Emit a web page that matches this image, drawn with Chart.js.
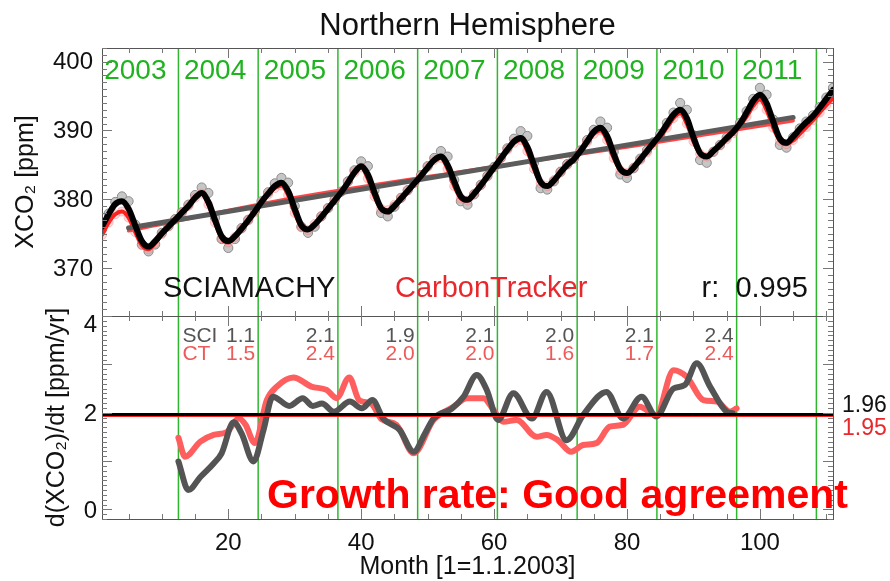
<!DOCTYPE html>
<html>
<head>
<meta charset="utf-8">
<script src="https://cdn.jsdelivr.net/npm/chart.js@4.4.0/dist/chart.umd.min.js"></script>
<style>
  html, body { margin: 0; padding: 0; background: #fff; }
  canvas { display: block; }
</style>
</head>
<body>
<canvas id="c" width="890" height="581"></canvas>
<script>
// Northern Hemisphere XCO2, month 1 = January 2003
// SCIAMACHY monthly means (circles)
const sciMonthly = [
  375.6, 377.9, 379.6, 380.4, 379.7, 376.3, 373.4, 372.4, 373.4, 375.1, 376.1, 377.1,
  378.1, 379.2, 380.6, 381.7, 380.9, 377.3, 374.2, 372.9, 374.2, 375.8, 377.0, 378.3,
  379.7, 381.0, 382.3, 383.1, 382.4, 379.0, 376.0, 375.1, 376.0, 377.5, 378.7, 379.9,
  381.1, 382.6, 384.2, 385.5, 384.8, 381.3, 378.0, 377.5, 378.9, 380.2, 381.3, 382.4,
  383.5, 384.8, 386.0, 387.0, 386.2, 382.8, 379.7, 379.2, 380.7, 382.1, 383.4, 384.7,
  386.0, 387.4, 388.8, 389.9, 389.2, 385.3, 381.6, 381.4, 382.6, 384.0, 385.1, 385.9,
  387.1, 388.6, 390.1, 391.3, 390.4, 386.9, 383.6, 383.1, 384.5, 385.9, 387.1, 388.3,
  389.5, 391.1, 392.6, 394.0, 393.0, 389.3, 385.7, 385.3, 386.9, 387.9, 389.0, 389.9,
  391.1, 392.8, 394.6, 396.2, 395.2, 391.6, 387.9, 387.5, 389.0, 390.3, 391.3, 392.2,
  393.4, 394.8, 396.2
];
// SCIAMACHY smoothed (black curve)
const sciSmooth = [
  376.0, 377.8, 379.3, 379.7, 378.6, 376.2, 373.9, 373.1, 373.9, 375.0, 376.0, 377.0,
  378.0, 379.0, 380.2, 380.9, 379.6, 377.0, 374.6, 373.9, 374.6, 375.7, 376.9, 378.2,
  379.6, 380.8, 381.9, 382.4, 381.2, 378.6, 376.2, 375.6, 376.3, 377.4, 378.6, 379.8,
  381.0, 382.4, 383.9, 384.8, 383.6, 381.0, 378.7, 378.2, 379.0, 380.1, 381.2, 382.3,
  383.4, 384.6, 385.7, 386.2, 385.0, 382.6, 380.4, 379.9, 380.8, 382.0, 383.3, 384.6,
  385.9, 387.2, 388.4, 388.9, 387.6, 385.0, 382.5, 381.9, 382.7, 383.9, 385.0, 385.8,
  387.0, 388.4, 389.8, 390.4, 389.2, 386.6, 384.4, 383.8, 384.6, 385.8, 387.0, 388.2,
  389.4, 390.9, 392.3, 393.0, 391.8, 389.0, 386.7, 386.2, 387.0, 387.9, 388.9, 389.8,
  391.0, 392.6, 394.3, 395.2, 394.0, 391.3, 388.8, 388.2, 389.1, 390.2, 391.2, 392.1,
  393.3, 394.6, 395.9
];
// CarbonTracker sampled like SCIAMACHY (red curve)
const ctMonthly = [
  374.8, 376.6, 377.8, 378.2, 377.3, 375.2, 373.3, 372.7, 373.6, 374.9, 376.0, 377.0,
  378.0, 379.0, 380.2, 380.8, 379.2, 376.6, 374.3, 373.7, 374.5, 375.7, 376.9, 378.1,
  379.5, 380.7, 381.6, 382.0, 380.6, 378.0, 375.9, 375.5, 376.4, 377.5, 378.7, 379.9,
  381.1, 382.5, 383.9, 384.6, 383.0, 380.4, 378.6, 378.4, 379.2, 380.2, 381.3, 382.4,
  383.5, 384.7, 385.7, 386.0, 384.4, 381.9, 380.1, 379.8, 380.8, 382.0, 383.3, 384.6,
  385.9, 387.2, 388.2, 388.6, 387.0, 384.4, 382.3, 381.9, 382.8, 383.9, 385.0, 385.9,
  387.0, 388.3, 389.5, 390.0, 388.6, 386.0, 384.2, 383.8, 384.6, 385.7, 386.8, 387.9,
  389.0, 390.4, 391.8, 392.5, 391.0, 388.4, 386.6, 386.2, 386.9, 387.8, 388.7, 389.6,
  390.7, 392.0, 393.6, 394.5, 393.0, 390.4, 388.5, 388.0, 388.6, 389.5, 390.5, 391.5,
  392.6, 393.7, 394.7
];
// long-term trends
const sciTrendMonths = [5, 105];
const sciTrend = [375.8, 391.9];
const ctTrendMonths = [5, 30, 55, 80, 105];
const ctTrend = [375.4, 380.2, 384.0, 387.6, 391.4];

// growth rate d(XCO2)/dt in ppm/yr
const sciRateMonths = [12.5, 14.0, 15.8, 17.8, 19.0, 20.8, 22.0, 23.8, 25.3, 26.7, 29.2, 31.2, 32.7,
  34.1, 35.9, 38.3, 40.1, 41.7, 43.3, 45.8, 47.9, 49.6, 50.9, 53.6, 55.4, 57.4, 58.9, 60.6, 62.9,
  65.7, 67.9, 70.9, 73.4, 76.9, 79.4, 82.2, 84.4, 87.0, 88.7, 90.5, 92.5, 95.0, 95.9];
const sciRate = [0.99, 0.40, 0.67, 0.95, 1.16, 1.80, 1.57, 0.99, 1.64, 2.33, 2.14, 2.30, 2.14,
  2.19, 2.02, 2.23, 2.09, 2.26, 1.88, 1.64, 1.19, 1.57, 1.88, 2.08, 2.33, 2.78, 2.47, 1.85, 2.40,
  1.88, 2.43, 1.43, 1.95, 2.43, 1.88, 2.33, 1.92, 2.50, 2.57, 3.02, 2.54, 2.02, 1.99];
const ctRateMonths = [12.5, 13.5, 15.8, 17.8, 19.8, 21.6, 22.6, 24.0, 25.8, 27.3, 29.8, 32.5, 34.8,
  36.3, 38.2, 39.7, 41.5, 43.1, 45.3, 47.9, 50.9, 53.9, 55.9, 58.4, 59.9, 61.4, 63.4, 66.4, 67.9,
  69.6, 71.6, 73.4, 75.4, 77.4, 79.4, 81.9, 84.4, 87.0, 89.0, 91.5, 93.5, 95.5, 96.5];
const ctRate = [1.48, 1.09, 1.40, 1.54, 1.60, 1.88, 1.75, 1.37, 2.26, 2.54, 2.73, 2.54, 2.47,
  2.30, 2.73, 2.26, 2.19, 1.86, 1.75, 1.16, 1.85, 2.12, 2.30, 2.30, 2.06, 1.81, 1.85, 1.50, 1.54,
  1.43, 1.19, 1.33, 1.37, 1.71, 1.75, 2.12, 1.95, 2.88, 2.74, 2.26, 2.23, 2.02, 2.09];
const sciMeanRate = 1.96;
const ctMeanRate = 1.95;

// annual growth rates 2004-2010
const sciAnnual = ['1.1', '2.1', '1.9', '2.1', '2.0', '2.1', '2.4'];
const ctAnnual = ['1.5', '2.4', '2.0', '2.0', '1.6', '1.7', '2.4'];

// calendar
const years = ['2003', '2004', '2005', '2006', '2007', '2008', '2009', '2010', '2011'];
const yearStarts = [0.5, 12.5, 24.5, 36.5, 48.5, 60.5, 72.5, 84.5, 96.5];
const yearBoundaries = [12.5, 24.5, 36.5, 48.5, 60.5, 72.5, 84.5, 96.5, 108.5];

// axis ticks
const xTicks = [20, 40, 60, 80, 100];
const xcoTicks = [370, 380, 390, 400];
const rateTicks = [0, 1, 2, 3, 4];

const FONT = '"Liberation Sans", Arial, Helvetica, sans-serif';
Chart.defaults.font.family = FONT;
Chart.defaults.color = '#111';

const byMonth = ys => ys.map((y, i) => ({ x: i + 1, y }));
const pairs = (xs, ys) => ys.map((y, i) => ({ x: xs[i], y }));

function seg(ctx, x1, y1, x2, y2) {
  ctx.beginPath(); ctx.moveTo(x1, y1); ctx.lineTo(x2, y2); ctx.stroke();
}
function text(ctx, str, x, y, size, color, align, weight) {
  ctx.font = (weight || '') + ' ' + size + 'px ' + FONT;
  ctx.fillStyle = color;
  ctx.textAlign = align || 'left';
  ctx.textBaseline = 'alphabetic';
  ctx.fillText(str, x, y);
}

const decor = {
  id: 'decor',
  beforeDatasetsDraw(chart) {
    const { ctx, chartArea: a, scales: { x } } = chart;
    ctx.save();
    ctx.strokeStyle = '#2fb82f';
    ctx.lineWidth = 1.5;
    yearBoundaries.forEach(m => {
      const px = x.getPixelForValue(m);
      seg(ctx, px, a.top, px, a.bottom);
    });
    ctx.restore();
  },
  afterDatasetsDraw(chart) {
    const { ctx, chartArea: a, scales: { x, y, y2 } } = chart;
    ctx.save();
    const mid = y.bottom;
    // frames
    ctx.strokeStyle = '#555';
    ctx.lineWidth = 1;
    ctx.strokeRect(Math.round(a.left) + 0.5, Math.round(a.top) + 0.5, Math.round(a.right - a.left), Math.round(mid - a.top));
    ctx.strokeRect(Math.round(a.left) + 0.5, Math.round(mid) + 0.5, Math.round(a.right - a.left), Math.round(a.bottom - mid));
    // inward tick marks
    ctx.strokeStyle = '#777';
    for (let v = Math.ceil(y.min); v <= y.max; v++) {
      const py = Math.round(y.getPixelForValue(v)) + 0.5;
      const len = v % 10 === 0 ? 10 : 5;
      seg(ctx, a.left, py, a.left + len, py);
      seg(ctx, a.right, py, a.right - len, py);
    }
    for (let i = Math.ceil(y2.min * 10); i <= Math.round(y2.max * 10); i++) {
      const py = Math.round(y2.getPixelForValue(i / 10)) + 0.5;
      const len = i % 10 === 0 ? 10 : 5;
      seg(ctx, a.left, py, a.left + len, py);
      seg(ctx, a.right, py, a.right - len, py);
    }
    for (let m = 5; m < x.max; m += 5) {
      const px = Math.round(x.getPixelForValue(m)) + 0.5;
      const len = m % 20 === 0 ? 10 : 5;
      seg(ctx, px, a.top, px, a.top + len);
      seg(ctx, px, mid, px, mid - len);
      seg(ctx, px, mid, px, mid + len);
      seg(ctx, px, a.bottom, px, a.bottom - len);
    }
    // title
    text(ctx, 'Northern Hemisphere', (a.left + a.right) / 2, 35, 31, '#111', 'center');
    // year labels
    years.forEach((yr, i) => {
      text(ctx, yr, x.getPixelForValue(yearStarts[i]) + 5.5, 79, 28, '#1fb31f', 'left');
    });
    // top panel legend
    text(ctx, 'SCIAMACHY', 163, 297, 29, '#111', 'left');
    text(ctx, 'CarbonTracker', 395, 297, 29, '#e8282d', 'left');
    text(ctx, 'r:  0.995', 808, 297, 29, '#111', 'right');
    // annual growth rates
    const x0 = x.getPixelForValue(yearBoundaries[0]) + 4;
    text(ctx, 'SCI', x0, 342, 21, '#555', 'left');
    text(ctx, 'CT', x0, 360, 21, '#ee5a5a', 'left');
    sciAnnual.forEach((s, i) => {
      const xr = x.getPixelForValue(yearBoundaries[i + 1]) - 3;
      text(ctx, s, xr, 342, 21, '#555', 'right');
      text(ctx, ctAnnual[i], xr, 360, 21, '#ee5a5a', 'right');
    });
    // mean growth rates
    text(ctx, sciMeanRate.toFixed(2), 842, 412, 23, '#111', 'left');
    text(ctx, ctMeanRate.toFixed(2), 842, 435, 23, '#e8282d', 'left');
    // statement
    text(ctx, 'Growth rate: Good agreement', 267, 508, 41, '#ff0000', 'left', 'bold');
    ctx.restore();
  }
};

const lineBase = { pointRadius: 0, fill: false, borderJoinStyle: 'round', borderCapStyle: 'round' };

new Chart(document.getElementById('c'), {
  type: 'line',
  data: {
    datasets: [
      { ...lineBase, data: byMonth(sciSmooth), yAxisID: 'y', borderColor: '#000', borderWidth: 6,
        cubicInterpolationMode: 'monotone', order: 0 },
      { ...lineBase, data: pairs(sciTrendMonths, sciTrend), yAxisID: 'y', borderColor: '#5c5c5c', borderWidth: 5, order: 1 },
      { ...lineBase, data: pairs(ctTrendMonths, ctTrend), yAxisID: 'y', borderColor: '#ff4545', borderWidth: 3.5,
        cubicInterpolationMode: 'monotone', order: 2 },
      { ...lineBase, data: byMonth(ctMonthly), yAxisID: 'y', borderColor: '#ff2020', borderWidth: 4,
        cubicInterpolationMode: 'monotone', order: 3 },
      { data: byMonth(ctMonthly), yAxisID: 'y', showLine: false, pointRadius: 4.5, pointBorderWidth: 1,
        pointBackgroundColor: 'rgba(255,150,150,0.35)', pointBorderColor: 'rgba(255,100,100,0.35)', order: 4 },
      { data: byMonth(sciMonthly), yAxisID: 'y', showLine: false, pointRadius: 4.6, pointBorderWidth: 1,
        pointBackgroundColor: '#c6c6c6', pointBorderColor: '#8c8c8c', order: 5 },

      { ...lineBase, data: [{ x: 1, y: sciMeanRate }, { x: 111, y: sciMeanRate }], yAxisID: 'y2',
        borderColor: '#000', borderWidth: 3, borderCapStyle: 'butt', order: 6 },
      { ...lineBase, data: [{ x: 1, y: ctMeanRate }, { x: 111, y: ctMeanRate }], yAxisID: 'y2',
        borderColor: '#ff2020', borderWidth: 4, borderCapStyle: 'butt', order: 7 },
      { ...lineBase, data: pairs(sciRateMonths, sciRate), yAxisID: 'y2', borderColor: '#545454', borderWidth: 6,
        cubicInterpolationMode: 'monotone', order: 8 },
      { ...lineBase, data: pairs(ctRateMonths, ctRate), yAxisID: 'y2', borderColor: '#ff5e5e', borderWidth: 6,
        cubicInterpolationMode: 'monotone', order: 9 }
    ]
  },
  options: {
    responsive: false,
    animation: false,
    devicePixelRatio: 1,
    layout: { padding: { top: 48, right: 57, bottom: 0, left: 0 } },
    plugins: { legend: { display: false }, tooltip: { enabled: false }, title: { display: false } },
    scales: {
      x: {
        type: 'linear', min: 1, max: 111, position: 'bottom',
        grid: { display: false, drawTicks: false }, border: { display: false },
        ticks: { font: { size: 24 }, color: '#111', padding: 10, maxRotation: 0 },
        afterBuildTicks: s => { s.ticks = xTicks.map(v => ({ value: v })); },
        afterFit: s => { s.height = 62; },
        title: { display: true, text: 'Month [1=1.1.2003]', color: '#111',
          font: { size: 25, lineHeight: 1 }, padding: { top: 0, bottom: 1 } }
      },
      y: {
        type: 'linear', position: 'left', stack: 'panels', stackWeight: 268, weight: 2,
        min: 363, max: 402,
        grid: { display: false, drawTicks: false }, border: { display: false },
        ticks: { font: { size: 24 }, color: '#111', padding: 9, labelOffset: 1 },
        afterBuildTicks: s => { s.ticks = xcoTicks.map(v => ({ value: v })); },
        afterFit: s => { s.width = 102; },
        title: { display: true, text: 'XCO₂ [ppm]', color: '#111',
          font: { size: 25, lineHeight: 1 }, padding: { top: 13.5, bottom: 0 } }
      },
      y2: {
        type: 'linear', position: 'left', stack: 'panels', stackWeight: 203, weight: 1,
        min: -0.2, max: 4.0,
        grid: { display: false, drawTicks: false }, border: { display: false },
        ticks: {
          font: { size: 24, lineHeight: 0.583 }, color: '#111', padding: 5, labelOffset: 2,
          // the top label sits just inside the panel
          callback: v => (v === 4 ? ['', '4'] : String(v))
        },
        afterBuildTicks: s => { s.ticks = rateTicks.map(v => ({ value: v })); },
        afterFit: s => { s.width = 102; },
        title: { display: true, text: 'd(XCO₂)/dt [ppm/yr]', color: '#111',
          font: { size: 25, lineHeight: 1 }, padding: { top: 44.5, bottom: 0 } }
      }
    }
  },
  plugins: [decor]
});
</script>
</body>
</html>
